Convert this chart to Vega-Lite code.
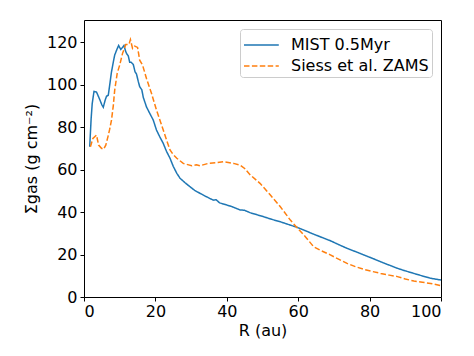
{
  "$schema": "https://vega.github.io/schema/vega-lite/v6.json",
  "autosize": {"type": "none"},
  "padding": {"left": 84, "top": 20, "right": 33, "bottom": 59},
  "width": 357,
  "height": 277,
  "background": "white",
  "config": {
    "font": "DejaVu Sans",
    "view": {"stroke": "black", "strokeWidth": 1},
    "axis": {
      "domain": false,
      "grid": false,
      "ticks": true,
      "tickColor": "black",
      "tickSize": 4,
      "labelFontSize": 16,
      "labelColor": "black",
      "labelFont": "DejaVu Sans",
      "titleFont": "DejaVu Sans",
      "titleFontSize": 16,
      "titleFontWeight": "normal",
      "titleColor": "black"
    },
    "legend": {
      "labelFont": "DejaVu Sans",
      "labelFontSize": 16,
      "labelColor": "black"
    }
  },
  "data": {
    "values": [
      {"R": 1.6, "S": 70.7, "model": "MIST 0.5Myr"},
      {"R": 2.0, "S": 84, "model": "MIST 0.5Myr"},
      {"R": 2.3, "S": 91, "model": "MIST 0.5Myr"},
      {"R": 2.8, "S": 96.8, "model": "MIST 0.5Myr"},
      {"R": 3.5, "S": 96.5, "model": "MIST 0.5Myr"},
      {"R": 4.4, "S": 93, "model": "MIST 0.5Myr"},
      {"R": 5.0, "S": 90.5, "model": "MIST 0.5Myr"},
      {"R": 5.4, "S": 89.3, "model": "MIST 0.5Myr"},
      {"R": 5.9, "S": 92.5, "model": "MIST 0.5Myr"},
      {"R": 6.3, "S": 94.5, "model": "MIST 0.5Myr"},
      {"R": 6.8, "S": 95, "model": "MIST 0.5Myr"},
      {"R": 7.3, "S": 101, "model": "MIST 0.5Myr"},
      {"R": 7.7, "S": 106, "model": "MIST 0.5Myr"},
      {"R": 8.2, "S": 110.5, "model": "MIST 0.5Myr"},
      {"R": 8.6, "S": 113.9, "model": "MIST 0.5Myr"},
      {"R": 9.2, "S": 116.5, "model": "MIST 0.5Myr"},
      {"R": 9.7, "S": 118.4, "model": "MIST 0.5Myr"},
      {"R": 10.3, "S": 116.5, "model": "MIST 0.5Myr"},
      {"R": 10.8, "S": 117.5, "model": "MIST 0.5Myr"},
      {"R": 11.2, "S": 118.4, "model": "MIST 0.5Myr"},
      {"R": 11.6, "S": 116, "model": "MIST 0.5Myr"},
      {"R": 11.9, "S": 114.7, "model": "MIST 0.5Myr"},
      {"R": 12.4, "S": 113.5, "model": "MIST 0.5Myr"},
      {"R": 12.8, "S": 110.5, "model": "MIST 0.5Myr"},
      {"R": 13.2, "S": 110.5, "model": "MIST 0.5Myr"},
      {"R": 13.8, "S": 109.5, "model": "MIST 0.5Myr"},
      {"R": 14.3, "S": 106, "model": "MIST 0.5Myr"},
      {"R": 14.7, "S": 105, "model": "MIST 0.5Myr"},
      {"R": 15.2, "S": 101.5, "model": "MIST 0.5Myr"},
      {"R": 15.6, "S": 99, "model": "MIST 0.5Myr"},
      {"R": 16.2, "S": 97.5, "model": "MIST 0.5Myr"},
      {"R": 16.6, "S": 94, "model": "MIST 0.5Myr"},
      {"R": 17.5, "S": 89.5, "model": "MIST 0.5Myr"},
      {"R": 18.4, "S": 86.5, "model": "MIST 0.5Myr"},
      {"R": 19.4, "S": 83.3, "model": "MIST 0.5Myr"},
      {"R": 20.3, "S": 78.6, "model": "MIST 0.5Myr"},
      {"R": 21.2, "S": 75.5, "model": "MIST 0.5Myr"},
      {"R": 22.2, "S": 72.3, "model": "MIST 0.5Myr"},
      {"R": 23.1, "S": 68.6, "model": "MIST 0.5Myr"},
      {"R": 24.1, "S": 65.3, "model": "MIST 0.5Myr"},
      {"R": 25.0, "S": 61.5, "model": "MIST 0.5Myr"},
      {"R": 26.0, "S": 58.2, "model": "MIST 0.5Myr"},
      {"R": 26.9, "S": 55.9, "model": "MIST 0.5Myr"},
      {"R": 28.3, "S": 53.8, "model": "MIST 0.5Myr"},
      {"R": 29.7, "S": 51.9, "model": "MIST 0.5Myr"},
      {"R": 31.0, "S": 50.2, "model": "MIST 0.5Myr"},
      {"R": 32.5, "S": 48.8, "model": "MIST 0.5Myr"},
      {"R": 34.3, "S": 47.2, "model": "MIST 0.5Myr"},
      {"R": 36.2, "S": 45.6, "model": "MIST 0.5Myr"},
      {"R": 37.0, "S": 45.8, "model": "MIST 0.5Myr"},
      {"R": 38.0, "S": 44.3, "model": "MIST 0.5Myr"},
      {"R": 40.0, "S": 43.3, "model": "MIST 0.5Myr"},
      {"R": 41.5, "S": 42.5, "model": "MIST 0.5Myr"},
      {"R": 43.7, "S": 41, "model": "MIST 0.5Myr"},
      {"R": 45.0, "S": 40.8, "model": "MIST 0.5Myr"},
      {"R": 46.5, "S": 39.7, "model": "MIST 0.5Myr"},
      {"R": 48.5, "S": 38.7, "model": "MIST 0.5Myr"},
      {"R": 50.3, "S": 37.8, "model": "MIST 0.5Myr"},
      {"R": 52.5, "S": 36.6, "model": "MIST 0.5Myr"},
      {"R": 55.0, "S": 35.4, "model": "MIST 0.5Myr"},
      {"R": 57.5, "S": 34, "model": "MIST 0.5Myr"},
      {"R": 59.7, "S": 32.8, "model": "MIST 0.5Myr"},
      {"R": 62.0, "S": 31.2, "model": "MIST 0.5Myr"},
      {"R": 64.3, "S": 29.6, "model": "MIST 0.5Myr"},
      {"R": 66.7, "S": 28, "model": "MIST 0.5Myr"},
      {"R": 69.0, "S": 26.5, "model": "MIST 0.5Myr"},
      {"R": 71.3, "S": 24.7, "model": "MIST 0.5Myr"},
      {"R": 73.7, "S": 22.9, "model": "MIST 0.5Myr"},
      {"R": 76.0, "S": 21.4, "model": "MIST 0.5Myr"},
      {"R": 78.4, "S": 19.8, "model": "MIST 0.5Myr"},
      {"R": 80.8, "S": 18.2, "model": "MIST 0.5Myr"},
      {"R": 83.1, "S": 16.6, "model": "MIST 0.5Myr"},
      {"R": 85.5, "S": 15, "model": "MIST 0.5Myr"},
      {"R": 87.8, "S": 13.5, "model": "MIST 0.5Myr"},
      {"R": 90.0, "S": 12.3, "model": "MIST 0.5Myr"},
      {"R": 92.4, "S": 11.1, "model": "MIST 0.5Myr"},
      {"R": 94.8, "S": 9.9, "model": "MIST 0.5Myr"},
      {"R": 97.1, "S": 8.8, "model": "MIST 0.5Myr"},
      {"R": 100.0, "S": 8, "model": "MIST 0.5Myr"},
      {"R": 1.8, "S": 70.7, "model": "Siess et al. ZAMS"},
      {"R": 2.5, "S": 74.7, "model": "Siess et al. ZAMS"},
      {"R": 3.5, "S": 76.2, "model": "Siess et al. ZAMS"},
      {"R": 4.1, "S": 71.5, "model": "Siess et al. ZAMS"},
      {"R": 4.9, "S": 70, "model": "Siess et al. ZAMS"},
      {"R": 5.5, "S": 69.6, "model": "Siess et al. ZAMS"},
      {"R": 6.1, "S": 71.5, "model": "Siess et al. ZAMS"},
      {"R": 6.7, "S": 75.4, "model": "Siess et al. ZAMS"},
      {"R": 7.2, "S": 79, "model": "Siess et al. ZAMS"},
      {"R": 7.7, "S": 83.3, "model": "Siess et al. ZAMS"},
      {"R": 8.2, "S": 90, "model": "Siess et al. ZAMS"},
      {"R": 8.6, "S": 97.4, "model": "Siess et al. ZAMS"},
      {"R": 9.3, "S": 105.3, "model": "Siess et al. ZAMS"},
      {"R": 10.0, "S": 109.2, "model": "Siess et al. ZAMS"},
      {"R": 10.8, "S": 114.7, "model": "Siess et al. ZAMS"},
      {"R": 11.7, "S": 118.9, "model": "Siess et al. ZAMS"},
      {"R": 12.6, "S": 118.9, "model": "Siess et al. ZAMS"},
      {"R": 13.0, "S": 121.2, "model": "Siess et al. ZAMS"},
      {"R": 13.6, "S": 117, "model": "Siess et al. ZAMS"},
      {"R": 14.2, "S": 118.1, "model": "Siess et al. ZAMS"},
      {"R": 15.0, "S": 117.5, "model": "Siess et al. ZAMS"},
      {"R": 15.6, "S": 111.5, "model": "Siess et al. ZAMS"},
      {"R": 16.4, "S": 109.2, "model": "Siess et al. ZAMS"},
      {"R": 17.5, "S": 102.9, "model": "Siess et al. ZAMS"},
      {"R": 18.9, "S": 95.9, "model": "Siess et al. ZAMS"},
      {"R": 20.3, "S": 88, "model": "Siess et al. ZAMS"},
      {"R": 22.2, "S": 78.6, "model": "Siess et al. ZAMS"},
      {"R": 23.2, "S": 73.5, "model": "Siess et al. ZAMS"},
      {"R": 24.1, "S": 69.2, "model": "Siess et al. ZAMS"},
      {"R": 25.0, "S": 67, "model": "Siess et al. ZAMS"},
      {"R": 26.0, "S": 65.3, "model": "Siess et al. ZAMS"},
      {"R": 27.8, "S": 62.9, "model": "Siess et al. ZAMS"},
      {"R": 30.2, "S": 61.8, "model": "Siess et al. ZAMS"},
      {"R": 31.5, "S": 62.2, "model": "Siess et al. ZAMS"},
      {"R": 32.5, "S": 61.8, "model": "Siess et al. ZAMS"},
      {"R": 34.8, "S": 62.9, "model": "Siess et al. ZAMS"},
      {"R": 37.2, "S": 63.2, "model": "Siess et al. ZAMS"},
      {"R": 39.0, "S": 63.7, "model": "Siess et al. ZAMS"},
      {"R": 41.9, "S": 62.9, "model": "Siess et al. ZAMS"},
      {"R": 43.7, "S": 62.1, "model": "Siess et al. ZAMS"},
      {"R": 45.0, "S": 60.5, "model": "Siess et al. ZAMS"},
      {"R": 46.5, "S": 57.6, "model": "Siess et al. ZAMS"},
      {"R": 49.3, "S": 53.5, "model": "Siess et al. ZAMS"},
      {"R": 52.2, "S": 48, "model": "Siess et al. ZAMS"},
      {"R": 55.0, "S": 42.5, "model": "Siess et al. ZAMS"},
      {"R": 57.8, "S": 36.2, "model": "Siess et al. ZAMS"},
      {"R": 59.7, "S": 32.6, "model": "Siess et al. ZAMS"},
      {"R": 62.0, "S": 28.4, "model": "Siess et al. ZAMS"},
      {"R": 64.3, "S": 23.7, "model": "Siess et al. ZAMS"},
      {"R": 66.2, "S": 22, "model": "Siess et al. ZAMS"},
      {"R": 69.0, "S": 19.8, "model": "Siess et al. ZAMS"},
      {"R": 71.3, "S": 17.8, "model": "Siess et al. ZAMS"},
      {"R": 73.7, "S": 15.8, "model": "Siess et al. ZAMS"},
      {"R": 76.0, "S": 14.3, "model": "Siess et al. ZAMS"},
      {"R": 78.4, "S": 13, "model": "Siess et al. ZAMS"},
      {"R": 80.8, "S": 12, "model": "Siess et al. ZAMS"},
      {"R": 83.1, "S": 11.1, "model": "Siess et al. ZAMS"},
      {"R": 85.5, "S": 10.3, "model": "Siess et al. ZAMS"},
      {"R": 87.8, "S": 9.6, "model": "Siess et al. ZAMS"},
      {"R": 90.0, "S": 8.5, "model": "Siess et al. ZAMS"},
      {"R": 92.4, "S": 7.5, "model": "Siess et al. ZAMS"},
      {"R": 94.8, "S": 6.9, "model": "Siess et al. ZAMS"},
      {"R": 97.1, "S": 6.4, "model": "Siess et al. ZAMS"},
      {"R": 100.0, "S": 5.3, "model": "Siess et al. ZAMS"}
    ]
  },
  "mark": {"type": "line", "strokeWidth": 1.5, "clip": true},
  "encoding": {
    "x": {
      "field": "R",
      "type": "quantitative",
      "scale": {"domain": [0, 100], "nice": false, "zero": false},
      "axis": {"values": [0, 20, 40, 60, 80, 100], "title": "R (au)", "titlePadding": 3, "labelPadding": 2}
    },
    "y": {
      "field": "S",
      "type": "quantitative",
      "scale": {"domain": [0, 130.4], "nice": false},
      "axis": {"values": [0, 20, 40, 60, 80, 100, 120], "title": "Σgas (g cm⁻²)", "titlePadding": 7, "labelPadding": 3}
    },
    "color": {
      "field": "model",
      "type": "nominal",
      "scale": {"domain": ["MIST 0.5Myr", "Siess et al. ZAMS"], "range": ["#1f77b4", "#ff7f0e"]},
      "legend": {
        "title": null,
        "orient": "top-right",
        "offset": 9,
        "symbolType": "M-1,0H1.9",
        "symbolSize": 576,
        "symbolStrokeWidth": 1.5,
        "labelFontSize": 16,
        "labelOffset": 22,
        "labelExpr": "datum.label + '\u00a0'",
        "padding": 3,
        "rowPadding": 0,
        "strokeColor": "#cccccc",
        "fillColor": "white",
        "cornerRadius": 3
      }
    },
    "strokeDash": {
      "field": "model",
      "type": "nominal",
      "scale": {"domain": ["MIST 0.5Myr", "Siess et al. ZAMS"], "range": [[1, 0], [5.5, 2.4]]},
      "legend": {
        "title": null,
        "orient": "top-right",
        "offset": 9,
        "symbolType": "M-1,0H1.9",
        "symbolSize": 576,
        "symbolStrokeWidth": 1.5,
        "labelFontSize": 16,
        "labelOffset": 22,
        "labelExpr": "datum.label + '\u00a0'",
        "padding": 3,
        "rowPadding": 0,
        "strokeColor": "#cccccc",
        "fillColor": "white",
        "cornerRadius": 3
      }
    }
  }
}
